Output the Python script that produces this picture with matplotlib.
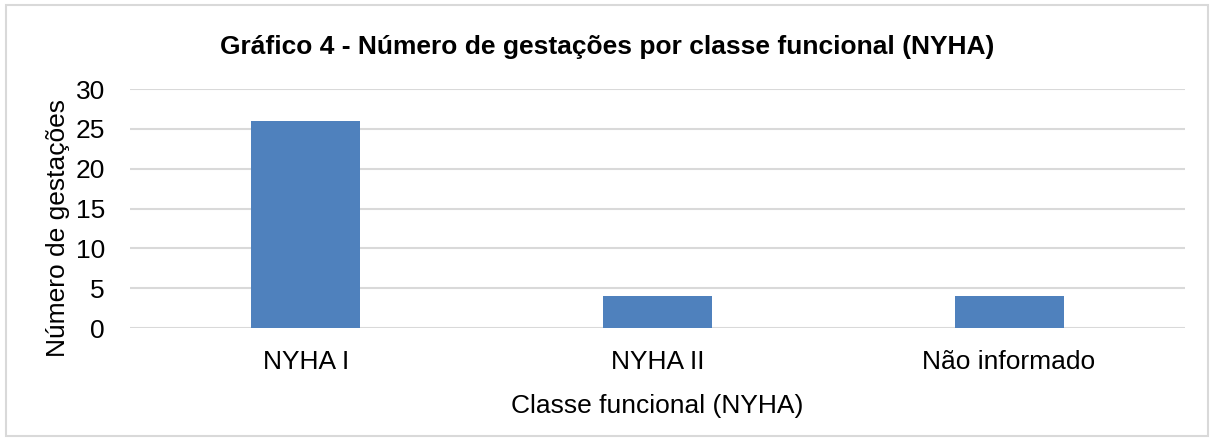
import matplotlib.pyplot as plt
from matplotlib.patches import Rectangle

categories = ['NYHA I', 'NYHA II', 'Não informado']
gestacoes = [26, 4, 4]
yticks = [0, 5, 10, 15, 20, 25, 30]

plt.rcParams['font.family'] = ['Liberation Sans', 'DejaVu Sans']

fig = plt.figure(figsize=(12.14, 4.41), dpi=100)
ax = fig.add_axes([0.107, 0.256, 0.869, 0.542])

x = range(len(categories))
ax.bar(x, gestacoes, width=0.31, color='#4f81bd', zorder=3)
ax.set_xlim(-0.5, len(categories) - 0.5)
ax.set_ylim(0, 30)
ax.set_yticks(yticks)
ax.set_xticks(list(x))
ax.set_xticklabels(categories)
ax.yaxis.grid(True, color='#d9d9d9', linewidth=1.5, zorder=0)
for sp in ax.spines.values():
    sp.set_visible(False)
ax.tick_params(axis='both', length=0, labelsize=19)
ax.tick_params(axis='x', pad=16)
ax.tick_params(axis='y', pad=18)

ax.set_xlabel('Classe funcional (NYHA)', fontsize=19, labelpad=14)
ax.set_ylabel('Número de gestações', fontsize=19)
ax.yaxis.set_label_coords(-0.057, 0.418)
fig.text(0.5, 0.893, 'Gráfico 4 - Número de gestações por classe funcional (NYHA)',
         ha='center', va='center', fontsize=19, fontweight='bold')

fig.patches.append(Rectangle((0.005, 0.012), 0.99, 0.976, transform=fig.transFigure,
                             fill=False, edgecolor='#d9d9d9', linewidth=1.5))

fig.savefig('out.png', dpi=100)
